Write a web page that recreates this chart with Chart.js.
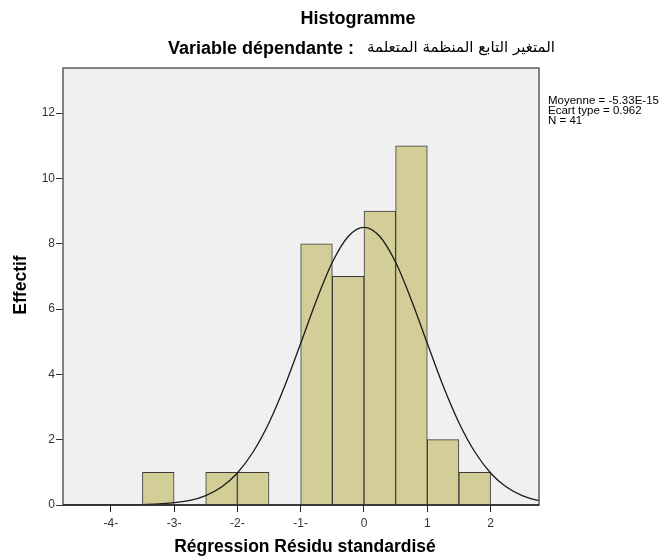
<!DOCTYPE html>
<html>
<head>
<meta charset="utf-8">
<script src="https://cdn.jsdelivr.net/npm/chart.js@4.4.0/dist/chart.umd.min.js"></script>
<style>
  html, body { margin: 0; padding: 0; background: #fff; }
  #wrap { width: 666px; height: 557px; position: relative; }
</style>
</head>
<body>
<div id="wrap"><canvas id="hist" width="666" height="557"></canvas></div>
<script>
// Histogramme des résidus standardisés (SPSS) — Chart.js

const binCenters = [-3.25, -2.25, -1.75, -0.75, -0.25, 0.25, 0.75, 1.25, 1.75];
const binCounts  = [1, 1, 1, 8, 7, 9, 11, 2, 1];

// courbe normale
const curveX = [-4.75, -4.5, -4.25, -4, -3.75, -3.5, -3.25, -3, -2.75, -2.5, -2.25, -2,
                -1.75, -1.5, -1.25, -1, -0.75, -0.5, -0.25, 0, 0.25, 0.5, 0.75, 1,
                1.25, 1.5, 1.75, 2, 2.25, 2.5, 2.75, 2.8];
const curveY = [0.00, 0.00, 0.00, 0.00, 0.00, 0.01, 0.03, 0.07, 0.14, 0.29, 0.55, 0.98,
                1.63, 2.52, 3.65, 4.95, 6.27, 7.43, 8.22, 8.50, 8.22, 7.43, 6.27, 4.95,
                3.65, 2.52, 1.63, 0.98, 0.55, 0.29, 0.14, 0.12];

const xTickValues = [-4, -3, -2, -1, 0, 1, 2];
const xTickLabels = ['-4-', '-3-', '-2-', '-1-', '0', '1', '2'];
const yTickValues = [0, 2, 4, 6, 8, 10, 12];

const title     = 'Histogramme';
const subLatin  = 'Variable dépendante : ';
const subArabic = 'المتغير التابع المنظمة المتعلمة';
const xTitle    = 'Régression Résidu standardisé';
const yTitle    = 'Effectif';
const statLines = ['Moyenne = -5.33E-15', 'Ecart type = 0.962', 'N = 41'];

const FONT = '"Liberation Sans", Arial, sans-serif';

// ── fond, cadre et textes ──────────────────────────────────────────────────
const spssDecor = {
  id: 'spssDecor',
  beforeDraw(chart) {
    const { ctx, chartArea: a } = chart;
    ctx.save();
    ctx.fillStyle = '#f0f0f0';
    ctx.fillRect(a.left, a.top, a.right - a.left, a.bottom - a.top);
    ctx.restore();
  },
  afterDraw(chart) {
    const { ctx, chartArea: a } = chart;
    ctx.save();
    // cadre
    ctx.strokeStyle = '#5c5c5c';
    ctx.lineWidth = 1.5;
    ctx.strokeRect(a.left, a.top, a.right - a.left, a.bottom - a.top);
    ctx.strokeStyle = '#222';
    ctx.lineWidth = 1.5;
    ctx.beginPath();
    ctx.moveTo(a.left, a.bottom);
    ctx.lineTo(a.right, a.bottom);
    ctx.stroke();

    ctx.fillStyle = '#000';
    ctx.textBaseline = 'middle';

    // titre
    ctx.font = 'bold 18px ' + FONT;
    ctx.textAlign = 'center';
    ctx.fillText(title, 358, 19);

    // sous-titre : latin gras + arabe normal
    const latFont = 'bold 18px ' + FONT;
    const arFont  = '15px "DejaVu Sans", sans-serif';
    ctx.textAlign = 'left';
    ctx.font = latFont;
    ctx.fillText(subLatin, 168, 49);
    ctx.font = arFont;
    ctx.direction = 'rtl';
    ctx.textAlign = 'right';
    ctx.fillText(subArabic, 555, 48);
    ctx.direction = 'ltr';

    // titres des axes
    ctx.font = 'bold 17.5px ' + FONT;
    ctx.textAlign = 'center';
    ctx.fillText(xTitle, (a.left + a.right) / 2 + 4, 547);
    ctx.save();
    ctx.translate(21, 285);
    ctx.rotate(-Math.PI / 2);
    ctx.fillText(yTitle, 0, 0);
    ctx.restore();

    // statistiques
    ctx.font = '11.5px ' + FONT;
    ctx.textAlign = 'left';
    statLines.forEach((s, i) => ctx.fillText(s, 548, 101 + i * 10));
    ctx.restore();
  }
};

new Chart(document.getElementById('hist'), {
  type: 'bar',
  data: {
    datasets: [
      {
        type: 'line',
        data: curveX.map((x, i) => ({ x, y: curveY[i] })),
        borderColor: '#1a1a1a',
        borderWidth: 1.3,
        pointRadius: 0,
        cubicInterpolationMode: 'monotone',
        fill: false,
        order: 0,
      },
      {
        type: 'bar',
        data: binCenters.map((x, i) => ({ x, y: binCounts[i] })),
        backgroundColor: '#d3ce98',
        borderColor: '#3a3a3a',
        borderWidth: 1,
        barPercentage: 1,
        categoryPercentage: 1,
        order: 1,
      },
    ],
  },
  options: {
    responsive: false,
    animation: false,
    events: [],
    layout: { padding: { left: 0, right: 127, top: 68, bottom: 0 } },
    plugins: { legend: { display: false }, tooltip: { enabled: false } },
    scales: {
      x: {
        type: 'linear',
        offset: false,
        min: -4.755,
        max: 2.765,
        afterFit: s => { s.height = 52; },
        afterBuildTicks: s => { s.ticks = xTickValues.map(v => ({ value: v })); },
        border: { display: false },
        grid: { offset: false, drawOnChartArea: false, drawTicks: true, tickLength: 7, color: '#222' },
        ticks: {
          autoSkip: false,
          maxRotation: 0,
          padding: 4,
          color: '#333',
          font: { family: FONT, size: 12 },
          callback: (v, i) => xTickLabels[i],
        },
      },
      y: {
        min: 0,
        max: 13.38,
        afterFit: s => { s.width = 63; },
        afterBuildTicks: s => { s.ticks = yTickValues.map(v => ({ value: v })); },
        border: { display: false },
        grid: { drawOnChartArea: false, drawTicks: true, tickLength: 7, color: '#333' },
        ticks: {
          padding: 1,
          color: '#333',
          font: { family: FONT, size: 12 },
        },
      },
    },
  },
  plugins: [spssDecor],
});
</script>
</body>
</html>
